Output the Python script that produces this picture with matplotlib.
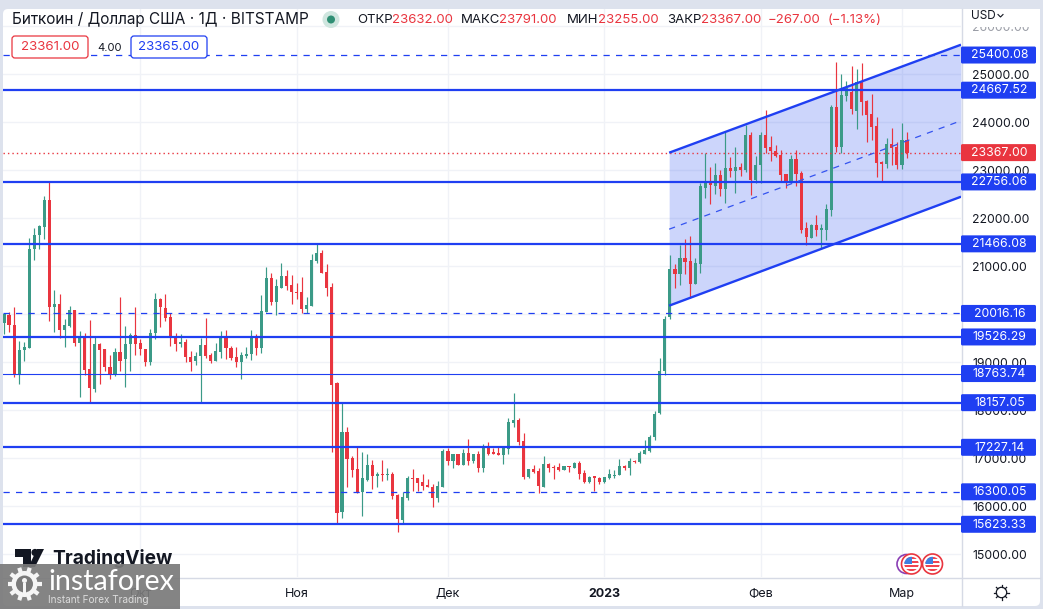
import matplotlib
matplotlib.use("Agg")
import matplotlib.pyplot as plt
from matplotlib.patches import Rectangle, Circle, Polygon, FancyBboxPatch
import numpy as np

plt.rcParams['font.family'] = ['Inter', 'DejaVu Sans']

opens = [19810,19990,19782,18754,19261,19289,21351,21643,21810,22386,20143,20219,19664,19761,20094,19393,19518,18865,18435,19386,
19282,18907,18754,19219,19060,19372,19574,19407,19282,19011,19601,20323,20136,19949,19518,19386,19421,19115,19032,19122,
19365,19150,19032,19219,19532,19303,19115,19011,19136,19178,19553,19303,20053,20761,20261,20553,20803,20615,20469,20469,
20115,20178,21115,21282,20886,20573,18559,15872,17552,17004,16781,16288,16552,16865,16636,16677,16656,16677,16240,15719,
16177,16594,16594,16511,16448,16406,16177,16406,17156,16948,17094,16865,17115,16948,17094,16802,17219,17136,17115,17073,
17198,17740,17802,17365,16615,16781,16740,16406,16886,16823,16823,16761,16837,16802,16906,16698,16511,16615,16594,16511,
16594,16629,16656,16844,16802,16948,16927,17094,17156,17448,17934,18809,19934,20949,20844,21178,21115,20636,21053,22636,
22782,22678,22907,22615,23053,22990,23073,23011,23740,22803,23115,23740,23490,23407,23323,22928,22761,23240,22948,21803,
21594,21865,21761,21761,22178,24323,23490,24553,24636,24240,24844,24448,24178,23928,23178,23136,23553,23490,23115,23632]
closes = [20004,19775,18754,19261,19310,21365,21657,21830,22386,20143,20219,19664,19782,20094,19393,19504,18844,18455,19386,19261,
18893,18754,19206,19032,19386,19574,19386,19282,19011,19615,20323,20143,19914,19497,19386,19421,19101,19011,19129,19365,
19136,19032,19240,19532,19303,19087,19011,19157,19178,19553,19303,20074,20761,20261,20594,20803,20594,20469,20448,20115,
20199,21136,21282,20865,20553,18531,15851,17552,16990,16761,16281,16594,16865,16636,16677,16656,16677,16219,15740,16198,
16594,16573,16490,16427,16406,16177,16427,17156,16948,17094,16865,17115,16948,17094,16802,17219,17094,17094,17073,17219,
17761,17802,17344,16615,16781,16719,16427,16886,16802,16802,16761,16844,16809,16906,16677,16511,16615,16594,16511,16615,
16677,16656,16844,16802,16948,16927,17115,17177,17448,17927,18823,19899,20941,20844,21178,21094,20636,21074,22678,22782,
22699,22907,22615,23053,22990,23073,23011,23740,22803,23115,23740,23469,23407,23303,22907,22740,23240,22928,21761,21615,
21865,21761,21782,22199,24323,23490,24573,24719,24282,24844,24428,24157,23907,23157,23136,23553,23469,23115,23636,23367]
highs = [20004,20039,20157,19449,19421,21587,21796,21865,22469,22782,20511,20421,19900,20178,20094,19657,19608,19886,19518,19393,
19282,19157,19303,20365,19761,19608,20157,19476,19282,19692,20448,20344,20421,20025,19615,19587,19483,19240,19219,19497,
19928,19199,19407,19657,19678,19344,19324,19219,19310,19678,19580,20407,20990,20865,20740,21073,20928,20823,20657,20782,
20365,21261,21469,21344,21053,20657,18594,18149,17642,17052,17233,17136,17094,16969,16719,16969,16802,16719,16261,16302,
16636,16781,16594,16677,16573,16469,16531,17198,17219,17094,17094,17198,17406,17094,17156,17302,17344,17219,17261,17240,
17844,18365,17844,17531,16781,16865,16802,17052,16906,16865,16906,16844,16844,16927,16948,16761,16636,16636,16615,16615,
16781,16761,16990,16865,17011,16969,17156,17386,17490,17990,19087,19969,21240,21046,21449,21574,21636,21178,22740,23365,
23073,23157,23011,23803,23282,23490,23157,23948,23803,23303,23803,24261,23719,23532,23428,22928,23323,23428,22990,21928,
21886,22074,21886,22303,24365,25261,25011,24865,25178,25115,25240,24469,24594,24115,23198,23678,23886,23594,23990,23791]
lows = [19587,19622,18685,18546,19018,19289,21129,21351,21560,19851,19622,19504,19310,19740,19330,18268,18733,18178,18372,18546,
18810,18643,18706,18810,18476,18824,19143,19157,18914,18949,19483,19726,19851,19330,19240,19310,19011,18824,18949,18178,
19080,18976,19032,19094,19074,19053,18893,18657,19094,19053,19157,19199,20053,20199,19990,20553,20511,20219,20323,20032,
20032,20178,21073,20865,20386,17122,15629,15747,16393,16615,16268,15788,16518,16365,16406,16531,16552,16156,15469,15629,
16136,16323,16323,16344,16406,15990,16094,16406,16865,16802,16865,16865,16865,16906,16719,16719,17073,17094,17073,16886,
17094,17656,17281,16573,16594,16698,16281,16406,16719,16573,16740,16761,16719,16802,16573,16490,16490,16323,16469,16490,
16573,16594,16656,16761,16656,16906,16906,17094,17136,17386,17920,18740,19899,20539,20615,20844,20338,20636,20865,22428,
22303,22511,22469,22323,22865,22532,22886,22969,22490,22740,22740,23365,23198,23282,22761,22636,22740,22678,21699,21449,
21594,21636,21365,21553,22053,23386,23365,24448,24178,23865,24157,23594,23636,22865,22761,23053,23115,23032,23032,23255]

month_pos = [27, 58, 88, 119, 150, 178]
month_labels = ['Окт', 'Ноя', 'Дек', '2023', 'Фев', 'Мар']
y_ticks = [15000, 16000, 17000, 18000, 19000, 20000, 21000, 22000, 23000, 24000, 25000, 26000]

solid_levels = [24667.52, 22756.06, 21466.08, 19526.29, 18157.05, 17227.14, 15623.33]
thin_levels = [18763.74]
dashed_levels = [25400.08, 20016.16, 16300.05]
last_price = 23367.00
channel_x = [131.85, 189.7]
channel_top = [23365, 25615]
channel_bottom = [20178, 22448]

GREEN = '#3b9a87'
RED = '#e9353f'
BLUE = '#1f3ff2'
INK = '#131722'
GRID = '#f0f2f7'
EDGE = '#d6dae5'

fig = plt.figure(figsize=(10.43, 6.09), dpi=100, facecolor='#dde2ed')

back = fig.add_axes([0, 0, 1, 1], zorder=0)
back.set_xlim(0, 1043); back.set_ylim(609, 0); back.axis('off')
back.add_patch(FancyBboxPatch((6, 12), 1031, 591, boxstyle='round,pad=3,rounding_size=5', fc='white', ec='none'))

ax = fig.add_axes([3 / 1043, 32 / 609, 958 / 1043, 568 / 609], zorder=1)
ax.patch.set_alpha(0)
for s in ax.spines.values():
    s.set_visible(False)
ax.set_xlim(-0.2, 189.7)
ax.set_ylim(14525, 26359)
ax.set_xticks(month_pos)
ax.set_xticklabels(month_labels, fontsize=9, color=INK)
ax.get_xticklabels()[3].set_fontweight('bold')
ax.yaxis.tick_right()
ax.set_yticks(y_ticks)
ax.set_yticklabels([f'{v:.2f}' for v in y_ticks], fontsize=8.8, color=INK)
ax.get_yticklabels()[-1].set_color('#9a9da6')
ax.tick_params(axis='both', length=0)
ax.tick_params(axis='x', pad=8)
ax.tick_params(axis='y', pad=8)
ax.grid(True, color=GRID, lw=1)
ax.set_axisbelow(True)

idx = np.arange(len(opens))
o, h, l, c = map(np.array, (opens, highs, lows, closes))
colors = [GREEN if b >= a else RED for a, b in zip(o, c)]
ax.fill_between(channel_x, channel_bottom, channel_top, color='#2a50f0', alpha=0.24, lw=0, zorder=1)
ax.vlines(idx, l, h, colors=colors, lw=0.85, zorder=2)
ax.bar(idx, np.maximum(np.abs(c - o), 25), bottom=np.minimum(o, c), width=0.62, color=colors, lw=0, zorder=3)

for v in solid_levels:
    ax.axhline(v, color=BLUE, lw=1.6, zorder=4)
for v in thin_levels:
    ax.axhline(v, color=BLUE, lw=0.8, zorder=4)
for v in dashed_levels:
    ax.axhline(v, color=BLUE, lw=0.9, ls=(0, (5, 5)), zorder=4)
ax.axhline(last_price, color=RED, lw=1.0, ls=(0, (1, 2.2)), zorder=4)
ax.plot(channel_x, channel_top, color=BLUE, lw=1.7, zorder=5, solid_capstyle='butt')
ax.plot(channel_x, channel_bottom, color=BLUE, lw=1.7, zorder=5, solid_capstyle='butt')
ax.plot(channel_x, np.add(channel_top, channel_bottom) / 2, color='#3453f0', lw=0.9,
        ls=(0, (5, 5)), zorder=5)

# overlay in pixel coordinates
ov = fig.add_axes([0, 0, 1, 1], zorder=2)
ov.set_xlim(0, 1043); ov.set_ylim(609, 0); ov.axis('off')

def py(p):
    return ov.transData.inverted().transform(ax.transData.transform((0, p)))[1]

# pane borders
ov.plot([961.5, 961.5], [9, 606], color=EDGE, lw=1)
ov.plot([3, 1040], [577.5, 577.5], color=EDGE, lw=1)
ov.add_patch(Rectangle((962, 9), 78, 18, fc='white', ec='none'))
ov.text(971, 16, 'USD', fontsize=8.5, color=INK, va='center')
ov.plot([998, 1000.5, 1003], [14.5, 17, 14.5], color=INK, lw=0.8)

# price labels
for v in solid_levels + thin_levels + dashed_levels + [last_price]:
    y = py(v)
    col = RED if v == last_price else BLUE
    ov.add_patch(FancyBboxPatch((961, y - 8.5), 75, 17, boxstyle='round,pad=0,rounding_size=1.5', fc=col, ec='none', zorder=3))
    ov.text(999.5, y + 0.3, f'{v:.2f}', color='white', fontsize=8.8, ha='center', va='center', zorder=4)

# header
ov.text(12, 19.5, 'Биткоин / Доллар США · 1Д · BITSTAMP', fontsize=11.05, color=INK, va='center')
ov.add_patch(Circle((331, 19.5), 8.5, fc='#cfe6df', ec='none'))
ov.add_patch(Circle((331, 19.5), 4, fc='#2f8f74', ec='none'))
for x, t, col in [(357, 'ОТКР', INK), (392, '23632.00', RED), (461, 'МАКС', INK), (499, '23791.00', RED),
                  (567, 'МИН', INK), (598, '23255.00', RED), (667, 'ЗАКР', INK), (701, '23367.00', RED),
                  (768, '−267.00', RED), (828, '(−1.13%)', RED)]:
    ov.text(x, 20, t, fontsize=9.5, color=col, va='center')

# order line boxes
ov.add_patch(FancyBboxPatch((12, 36), 76, 22, boxstyle='round,pad=0,rounding_size=3', fc='white', ec=RED, lw=0.9))
ov.text(50, 47.5, '23361.00', color=RED, fontsize=9.6, ha='center', va='center')
ov.add_patch(Rectangle((90, 42), 39, 12, fc='white', ec='none'))
ov.text(110, 48, '4.00', color=INK, fontsize=8, ha='center', va='center')
ov.add_patch(FancyBboxPatch((131, 36), 76, 22, boxstyle='round,pad=0,rounding_size=3', fc='white', ec=BLUE, lw=0.9))
ov.text(169, 47.5, '23365.00', color=BLUE, fontsize=9.6, ha='center', va='center')

# TradingView logo
ov.add_patch(Polygon([(15, 549), (31, 549), (31, 567), (23, 567), (23, 556.5), (15, 556.5)], fc=INK, ec='none'))
ov.add_patch(Circle((35, 552.5), 3.6, fc=INK, ec='none'))
ov.add_patch(Polygon([(37, 549), (44, 549), (35, 567), (28.5, 567)], fc=INK, ec='none'))
ov.text(52, 558, 'TradingView', fontsize=13.8, fontweight='bold', color=INK, va='center')

# instaforex watermark
ov.add_patch(Rectangle((0, 564), 180, 45, fc='#7a7a7a', ec='none', alpha=0.92, zorder=6))
ov.text(48, 582, 'instaforex', fontsize=20.6, color='white', family='Lato', va='center', zorder=7)
ov.text(48, 600, 'Instant Forex Trading', fontsize=7.2, color='#dcdcdc', va='center', zorder=7)
gx, gy = 24.5, 584
ov.add_patch(Circle((gx, gy), 13, fc='#f5f5f5', ec='none', zorder=7))
for a in np.arange(0, 360, 36):
    ra = np.radians(a)
    ov.plot([gx + 12 * np.cos(ra), gx + 17 * np.cos(ra)], [gy + 12 * np.sin(ra), gy + 17 * np.sin(ra)],
            color='#f5f5f5', lw=3, zorder=7, solid_capstyle='butt')
ov.add_patch(Circle((gx, gy), 8.5, fc='#7a7a7a', ec='none', zorder=8))
ov.add_patch(Circle((gx, gy - 3.5), 2.5, fc='#f5f5f5', ec='none', zorder=9))
ov.add_patch(Rectangle((gx - 1.5, gy - 1), 3, 10, fc='#f5f5f5', ec='none', zorder=9))

# event flags
ov.add_patch(Circle((906.5, 564), 9.5, fc='white', ec='#8a3fb5', lw=1.2, zorder=3))
for fx in (911.5, 932.5):
    ov.add_patch(Circle((fx, 564), 10, fc='white', ec=RED, lw=1.2, zorder=4))
    clip = Circle((fx, 564), 7.2, transform=ov.transData)
    for k, yy in enumerate((557, 561, 565, 569)):
        r = Rectangle((fx - 8, yy), 16, 2.2, fc='#ef4450', ec='none', zorder=5)
        ov.add_patch(r); r.set_clip_path(clip)
    r = Rectangle((fx - 8, 556), 8, 7.5, fc='#3f7fe0', ec='none', zorder=6)
    ov.add_patch(r); r.set_clip_path(clip)

# settings icon
sx, sy = 1001.5, 592.5
ov.add_patch(Circle((sx, sy), 5.2, fc='white', ec=INK, lw=0.9))
for a in np.arange(0, 360, 45):
    ra = np.radians(a)
    ov.plot([sx + 5.2 * np.cos(ra), sx + 7.2 * np.cos(ra)], [sy + 5.2 * np.sin(ra), sy + 7.2 * np.sin(ra)],
            color=INK, lw=0.9)

fig.savefig('out.png', dpi=100, facecolor=fig.get_facecolor())
